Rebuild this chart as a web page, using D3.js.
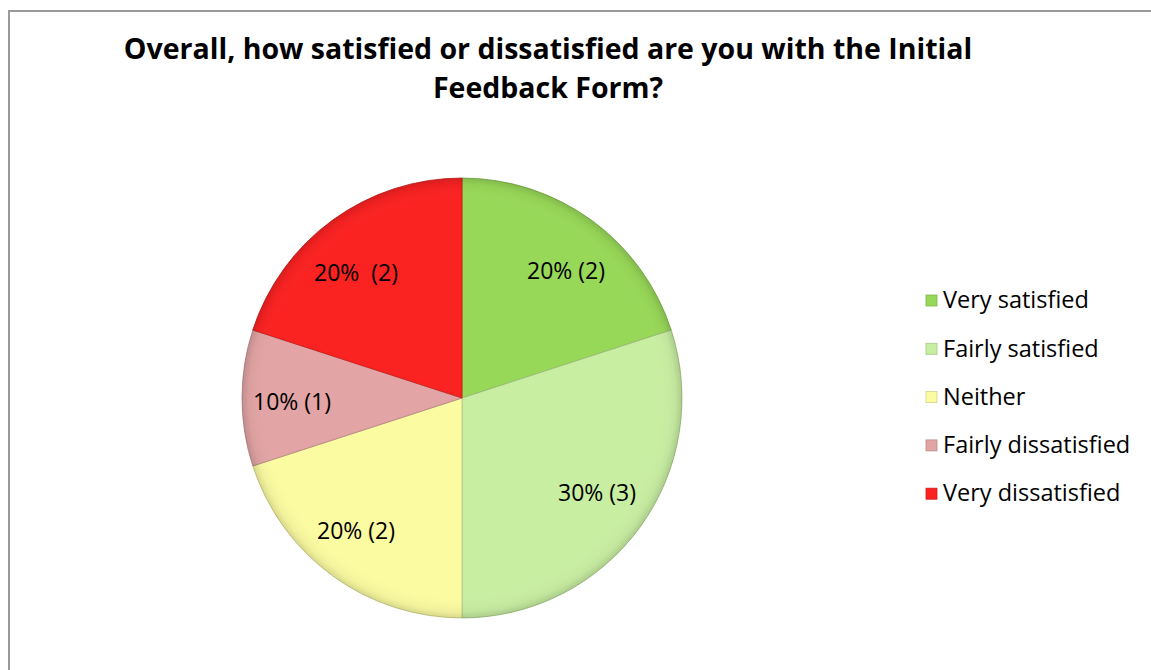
<!DOCTYPE html>
<html>
<head>
<meta charset="utf-8">
<script src="https://cdn.jsdelivr.net/npm/d3@7"></script>
<style>
  html, body { margin: 0; padding: 0; background: #fff; }
  svg { display: block; }
  text { font-family: "Open Sans", "Noto Sans", sans-serif; fill: #000; }
</style>
</head>
<body>
<svg id="chart" width="1151" height="670"></svg>
<script>
// Survey responses
const categories = ["Very satisfied", "Fairly satisfied", "Neither", "Fairly dissatisfied", "Very dissatisfied"];
const counts = [2, 3, 2, 1, 2];
const percents = [20, 30, 20, 10, 20];
const sliceLabels = ["20% (2)", "30% (3)", "20% (2)", "10% (1)", "20%  (2)"];
const colors = ["#98d858", "#c8eea2", "#fbfba2", "#e2a4a4", "#fb2222"];
const titleLines = ["Overall, how satisfied or dissatisfied are you with the Initial", "Feedback Form?"];

const svg = d3.select("#chart");
const W = 1151, H = 670;

// chart frame (left and top edges visible)
svg.append("path")
  .attr("d", `M9,${H} L9,11 L${W},11`)
  .attr("fill", "none")
  .attr("stroke", "#9a9a9a")
  .attr("stroke-width", 2);

// title, one text element per line
svg.selectAll("text.title")
  .data(titleLines)
  .join("text")
  .attr("class", "title")
  .attr("x", 548)
  .attr("y", (d, i) => 59 + i * 39)
  .attr("text-anchor", "middle")
  .attr("font-weight", "bold")
  .attr("font-size", 28.5)
  .text(d => d);

// pie
const cx = 462, cy = 398, R = 220;
const data = categories.map((c, i) => ({ cat: c, count: counts[i], pct: percents[i], label: sliceLabels[i], color: colors[i] }));
const pie = d3.pie().sort(null).value(d => d.count);
const arcs = pie(data);
const arc = d3.arc().innerRadius(0).outerRadius(R);

// soft darkening toward the rim
const defs = svg.append("defs");
const rim = defs.append("radialGradient")
  .attr("id", "rim").attr("gradientUnits", "userSpaceOnUse")
  .attr("cx", 0).attr("cy", 0).attr("r", R);
rim.append("stop").attr("offset", "0%").attr("stop-color", "#fff").attr("stop-opacity", 0);
rim.append("stop").attr("offset", "90%").attr("stop-color", "#fff").attr("stop-opacity", 0);
rim.append("stop").attr("offset", "97%").attr("stop-color", "#000").attr("stop-opacity", 0.04);
rim.append("stop").attr("offset", "100%").attr("stop-color", "#000").attr("stop-opacity", 0.14);

const g = svg.append("g").attr("transform", `translate(${cx},${cy})`);
g.selectAll("path.slice")
  .data(arcs)
  .join("path")
  .attr("class", "slice")
  .attr("d", arc)
  .attr("fill", d => d.data.color)
  .attr("stroke", d => d3.color(d.data.color).darker(0.7))
  .attr("stroke-width", 0.8);

g.append("circle").attr("r", R).attr("fill", "url(#rim)").attr("pointer-events", "none");

// slice value labels
const labelPos = [[104, -127], [135, 95], [-106, 133], [-170, 4], [-106, -125]];
g.selectAll("text.val")
  .data(arcs)
  .join("text")
  .attr("class", "val")
  .attr("x", (d, i) => labelPos[i][0])
  .attr("y", (d, i) => labelPos[i][1])
  .attr("dy", "0.35em")
  .attr("text-anchor", "middle")
  .attr("font-size", 23)
  .attr("xml:space", "preserve")
  .style("white-space", "pre")
  .text(d => d.data.label);

// legend
const legend = svg.append("g").attr("transform", "translate(926,300)");
const rows = legend.selectAll("g").data(data).join("g")
  .attr("transform", (d, i) => `translate(0,${i * 48.3})`);
rows.append("rect")
  .attr("x", 0).attr("y", -5).attr("width", 11).attr("height", 11)
  .attr("fill", d => d.color)
  .attr("stroke", d => d3.color(d.color).darker(0.5))
  .attr("stroke-width", 0.8);
rows.append("text")
  .attr("x", 17).attr("y", 0).attr("dy", "0.35em")
  .attr("font-size", 23.5)
  .text(d => d.cat);
</script>
</body>
</html>
